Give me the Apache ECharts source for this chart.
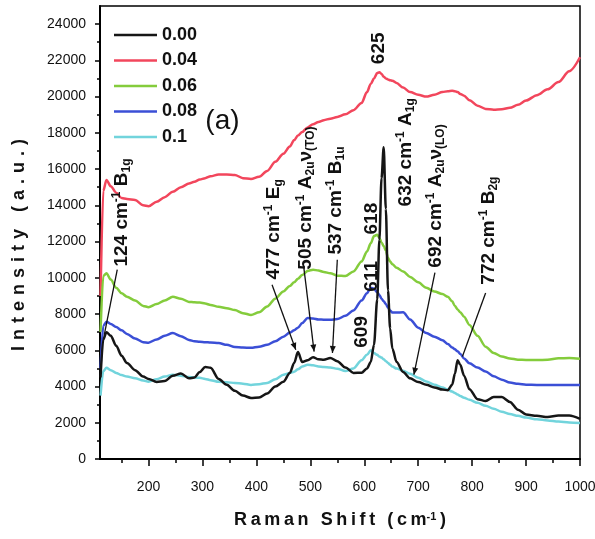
<!DOCTYPE html>
<html>
<head>
<meta charset="utf-8" />
<title>Raman</title>
<script src="https://cdn.jsdelivr.net/npm/echarts@6/dist/echarts.min.js"></script>
<style>
html,body{margin:0;padding:0;background:#fff;}
#main{width:595px;height:539px;}
</style>
</head>
<body>
<div id="main"></div>
<script type="text/javascript">
// Raman shift (cm-1)
var ramanShift = [
	111,116,122,130,140,150,160,175,190,200,
	215,230,245,260,275,285,295,305,315,330,
	345,360,375,390,405,420,435,450,462,470,
	477,485,495,505,515,525,537,550,565,580,
	595,605,612,618,624,628,632,636,640,644,
	648,652,660,672,685,700,715,730,745,755,
	763,768,773,778,785,795,810,825,840,855,
	870,885,900,920,940,960,980,1000
];
var int000 = [
	4500,6600,7000,6800,6250,5700,5300,4900,4550,4420,
	4250,4300,4600,4720,4450,4500,4800,5080,5030,4420,
	4100,3760,3500,3370,3400,3620,4000,4260,4750,5300,
	5900,5350,5450,5620,5500,5480,5580,5400,5050,4750,
	4760,5000,5350,6300,8800,12100,15500,17200,13800,9300,
	7200,6100,5350,4800,4450,4250,4100,3950,3830,3800,
	4100,4700,5450,5200,4600,3850,3300,3200,3420,3420,
	3150,2720,2460,2380,2320,2400,2400,2210
];
var int004 = [
	9000,14800,15400,15050,14700,14400,14350,14300,14000,13950,
	14200,14450,14750,15000,15200,15300,15420,15500,15600,15700,
	15700,15680,15500,15450,15580,15900,16400,16850,17250,17600,
	17850,18050,18300,18480,18600,18700,18780,18880,19020,19250,
	19650,20250,20700,21000,21300,21350,21250,21100,21000,20950,
	20900,20880,20750,20500,20250,20100,20000,20100,20250,20300,
	20320,20300,20250,20150,20050,19800,19500,19320,19280,19300,
	19380,19550,19780,20080,20400,20800,21400,22170
];
var int006 = [
	7000,10100,10250,9900,9450,9150,8950,8750,8450,8380,
	8550,8750,8950,8850,8670,8650,8630,8580,8500,8400,
	8320,8220,8050,7950,8100,8420,8850,9250,9550,9750,
	9950,10150,10380,10450,10400,10320,10250,10120,10100,10350,
	10900,11450,11900,12300,12380,12200,11950,11750,11500,11100,
	10900,10750,10550,10350,10050,9750,9450,9250,9100,8950,
	8700,8450,8250,8100,7850,7400,6800,6200,5850,5650,
	5550,5480,5470,5460,5480,5560,5570,5530
];
var int008 = [
	5000,7350,7580,7450,7280,7100,6900,6650,6450,6420,
	6600,6800,6950,6780,6570,6500,6470,6450,6430,6400,
	6300,6180,6150,6140,6200,6300,6500,6750,6980,7100,
	7250,7500,7780,7760,7700,7690,7680,7720,7900,8200,
	8750,9150,9450,9400,9200,9050,8850,8700,8550,8350,
	8200,8080,8080,8100,7700,7250,6950,6750,6560,6350,
	6150,6050,5950,5800,5550,5280,5050,4830,4560,4380,
	4220,4150,4100,4090,4090,4090,4080,4090
];
var int010 = [
	3500,4850,5030,4900,4750,4630,4550,4460,4330,4270,
	4400,4550,4650,4600,4520,4500,4480,4420,4350,4260,
	4230,4200,4150,4090,4130,4200,4400,4650,4750,4820,
	4950,5100,5200,5170,5110,5080,5050,4980,4850,5000,
	5450,5750,6000,5850,5750,5650,5600,5500,5400,5300,
	5200,5100,4990,4870,4700,4480,4280,4100,3950,3830,
	3720,3640,3560,3480,3380,3270,3100,2940,2770,2610,
	2480,2380,2290,2190,2130,2070,2020,1990
];
var seriesNames = ['0.00', '0.04', '0.06', '0.08', '0.1'];

// tick labels
var xMajor = [200, 300, 400, 500, 600, 700, 800, 900, 1000];
var xMinor = [150, 250, 350, 450, 550, 650, 750, 850, 950];
var yMajor = [0, 2000, 4000, 6000, 8000, 10000, 12000, 14000, 16000, 18000, 20000, 22000, 24000];
var yMinor = [1000, 3000, 5000, 7000, 9000, 11000, 13000, 15000, 17000, 19000, 21000, 23000];

// peak labels (rotated), anchored at the start of the text, in data units
var noteLabels = [
	'{n|124 cm}{sp|-1}{n| B}{sb|1g}',
	'{n|477 cm}{sp|-1}{n| E}{sb|g}',
	'{n|505 cm}{sp|-1}{n| A}{sb|2u}{n|ν}{sb|(TO)}',
	'{n|537 cm}{sp|-1}{n| B}{sb|1u}',
	'{n|609}',
	'{n|611}',
	'{n|618}',
	'{n|625}',
	'{n|632 cm}{sp|-1}{n| A}{sb|1g}',
	'{n|692 cm}{sp|-1}{n| A}{sb|2u}{n|ν}{sb|(LO)}',
	'{n|772 cm}{sp|-1}{n| B}{sb|2g}'
];
var noteAt = [
	[150, 10620], [432, 9900], [491, 10450], [547, 11280], [595, 6140], [614, 9235],
	[614, 12390], [627, 21790], [677, 13940], [732, 10560], [831, 9620]
];
var arrowFrom = [[142, 10450], [429, 9620], [488, 10550], [550, 11000], [731, 10290], [825, 9160]];
var arrowTo = [[118, 6860], [473, 6030], [507, 5930], [541, 5850], [692, 4650], [782, 5660]];
var arrowHead = [false, true, true, true, true, false];
var panelLabelAt = [337, 18640];

var colors = ['#161616', '#f2465c', '#84cc3c', '#3b4fd6', '#72d4dc'];
var values = [int000, int004, int006, int008, int010];

function pairs(ys) {
	var out = [];
	for (var i = 0; i < ramanShift.length; i++) out.push([ramanShift[i], ys[i]]);
	return out;
}
function spaced(s, gap) {
	return s.split('').join(gap);
}

var myChart = echarts.init(document.getElementById('main'));
var fam = '"Liberation Sans", Arial, sans-serif';
var series = [];
for (var k = 0; k < values.length; k++) {
	series.push({
		name: seriesNames[k],
		type: 'line',
		data: pairs(values[k]),
		showSymbol: false,
		smooth: 0.3,
		smoothMonotone: 'x',
		z: k === 0 ? 4 : 2,
		lineStyle: {color: colors[k], width: 2.5},
		itemStyle: {color: colors[k]}
	});
}

var xName = '{t|' + spaced('Raman Shift (cm', '\u2009') + '}{s|-1}{t|\u2009)}';
var plain = function (v) { return String(v); };

var option = {
	animation: false,
	backgroundColor: '#fff',
	grid: {
		left: 100, right: 15, top: 6, bottom: 80,
		show: true, borderColor: '#000', borderWidth: 1.5,
		outerBoundsMode: 'none'
	},
	legend: {
		data: seriesNames,
		orient: 'vertical',
		left: 109,
		top: 21,
		itemWidth: 43,
		itemHeight: 2.5,
		itemGap: 7.5,
		icon: 'rect',
		textStyle: {fontFamily: fam, fontSize: 18, fontWeight: 'bold', color: '#111'}
	},
	xAxis: [{
		type: 'value', min: 110, max: 1000, position: 'bottom',
		axisLine: {show: true, onZero: false, lineStyle: {color: '#000', width: 2}},
		axisTick: {show: true, inside: false, length: 7, customValues: xMajor, lineStyle: {color: '#000', width: 1.5}},
		axisLabel: {customValues: xMajor, formatter: plain, margin: 21, color: '#111', fontSize: 14, fontFamily: fam},
		splitLine: {show: false},
		name: xName,
		nameLocation: 'middle',
		nameGap: 52,
		nameTextStyle: {
			rich: {
				t: {fontFamily: fam, fontSize: 18, fontWeight: 'bold', color: '#111'},
				s: {fontFamily: fam, fontSize: 11, fontWeight: 'bold', color: '#111', verticalAlign: 'top', lineHeight: 10}
			}
		}
	}, {
		type: 'value', min: 110, max: 1000, position: 'bottom',
		axisLine: {show: false},
		axisLabel: {show: false},
		splitLine: {show: false},
		axisTick: {show: true, inside: false, length: 4, customValues: xMinor, lineStyle: {color: '#000', width: 1.5}}
	}],
	yAxis: [{
		type: 'value', min: 0, max: 25000, position: 'left',
		axisLine: {show: true, onZero: false, lineStyle: {color: '#000', width: 2}},
		axisTick: {show: true, inside: false, length: 5, customValues: yMajor, lineStyle: {color: '#000', width: 1.5}},
		axisLabel: {customValues: yMajor, formatter: plain, margin: 14, color: '#111', fontSize: 14, fontFamily: fam},
		splitLine: {show: false}
	}, {
		type: 'value', min: 0, max: 25000, position: 'left',
		axisLine: {show: false},
		axisLabel: {show: false},
		splitLine: {show: false},
		axisTick: {show: true, inside: false, length: 3, customValues: yMinor, lineStyle: {color: '#000', width: 1.5}}
	}],
	series: series
};
myChart.setOption(option);

// annotations
var richNote = {
	n: {fontFamily: fam, fontSize: 19, fontWeight: 'bold', fill: '#111', lineHeight: 22},
	sp: {fontFamily: fam, fontSize: 12, fontWeight: 'bold', fill: '#111', verticalAlign: 'top', lineHeight: 12},
	sb: {fontFamily: fam, fontSize: 12, fontWeight: 'bold', fill: '#111', verticalAlign: 'bottom', lineHeight: 12}
};
function toPx(p) {
	return myChart.convertToPixel({xAxisIndex: 0, yAxisIndex: 0}, p);
}
var graphics = [];
for (var i = 0; i < noteLabels.length; i++) {
	var p = toPx(noteAt[i]);
	graphics.push({
		type: 'text', x: p[0], y: p[1], rotation: Math.PI / 2, z: 10,
		style: {
			text: noteLabels[i], rich: richNote, fill: '#111',
			font: 'bold 19px ' + fam,
			align: 'left', verticalAlign: 'middle',
			textAlign: 'left', textVerticalAlign: 'middle'
		}
	});
}
for (var j = 0; j < arrowFrom.length; j++) {
	var a = toPx(arrowFrom[j]);
	var b = toPx(arrowTo[j]);
	graphics.push({
		type: 'line', z: 10,
		shape: {x1: a[0], y1: a[1], x2: b[0], y2: b[1]},
		style: {stroke: '#111', lineWidth: 1.3}
	});
	if (arrowHead[j]) {
		var dx = b[0] - a[0], dy = b[1] - a[1];
		var len = Math.sqrt(dx * dx + dy * dy);
		var ux = dx / len, uy = dy / len;
		var bx = b[0] - ux * 7, by = b[1] - uy * 7;
		graphics.push({
			type: 'polygon', z: 10,
			shape: {points: [[b[0], b[1]], [bx - uy * 3, by + ux * 3], [bx + uy * 3, by - ux * 3]]},
			style: {fill: '#111'}
		});
	}
}
var pa = toPx(panelLabelAt);
graphics.push({
	type: 'text', x: pa[0], y: pa[1], z: 10,
	style: {text: '(a)', fill: '#111', font: '28px ' + fam, align: 'center', verticalAlign: 'middle',
		textAlign: 'center', textVerticalAlign: 'middle'}
});
// y axis title
graphics.push({
	type: 'text', x: 19, y: 245, rotation: Math.PI / 2, z: 10,
	style: {text: spaced('Intensity (a.u.)', '\u2004'), fill: '#111', font: 'bold 18px ' + fam,
		align: 'center', verticalAlign: 'middle', textAlign: 'center', textVerticalAlign: 'middle'}
});
myChart.setOption({graphic: graphics});
</script>
</body>
</html>
